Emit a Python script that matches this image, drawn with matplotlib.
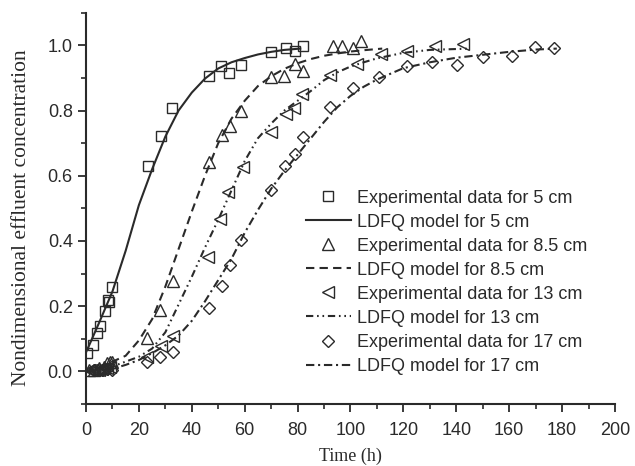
import matplotlib
matplotlib.use("Agg")
import matplotlib.pyplot as plt
from matplotlib.ticker import MultipleLocator

# ------------------------------------------------------------
# Breakthrough data (time in h, C/C0)
# ------------------------------------------------------------

exp5_t = [0.4, 2.6, 4.2, 5.3, 7.2, 8.3, 8.7, 9.8, 23.4, 28.4, 32.5, 46.5,
          51.0, 54.1, 58.6, 69.9, 75.6, 79.0, 82.0]
exp5_c = [0.058, 0.08, 0.117, 0.14, 0.184, 0.22, 0.212, 0.258, 0.629, 0.721,
          0.807, 0.905, 0.936, 0.914, 0.939, 0.979, 0.991, 0.982, 0.997]

exp85_t = [1, 3, 5, 7, 8, 9, 10, 23.1, 28.0, 32.9, 46.5, 51.4, 54.4, 58.6,
           69.9, 74.9, 79.0, 82.0, 93.4, 96.8, 100.9, 103.9]
exp85_c = [0.003, 0.005, 0.01, 0.015, 0.025, 0.03, 0.03, 0.104, 0.187, 0.276,
           0.641, 0.724, 0.752, 0.798, 0.902, 0.905, 0.942, 0.92, 0.997,
           0.997, 0.991, 1.012]

exp13_t = [1, 2, 3, 4, 5, 6, 7, 8, 9, 23.1, 28.4, 32.9, 46.1, 50.7, 53.7,
           59.4, 69.9, 75.6, 78.6, 81.7, 92.2, 102.5, 111.5, 121.4, 131.9,
           142.5]
exp13_c = [0.003, 0.003, 0.005, 0.005, 0.005, 0.008, 0.01, 0.012, 0.015,
           0.045, 0.077, 0.11, 0.35, 0.466, 0.549, 0.626, 0.733, 0.788,
           0.807, 0.85, 0.908, 0.942, 0.972, 0.982, 0.997, 1.003]

exp17_t = [3, 6, 8, 10, 23.1, 28.0, 32.9, 46.5, 51.4, 54.4, 58.6, 69.9, 75.2,
           79.0, 82.0, 92.2, 100.9, 110.8, 121.4, 130.8, 140.3, 150.1, 161.1,
           169.8, 176.9]
exp17_c = [0.003, 0.005, 0.008, 0.005, 0.028, 0.043, 0.061, 0.196, 0.261,
           0.325, 0.402, 0.555, 0.629, 0.666, 0.718, 0.81, 0.868, 0.902,
           0.936, 0.948, 0.939, 0.963, 0.966, 0.994, 0.991]

# LDFQ model curves
mod5_t = [0, 5, 10, 15, 20, 25, 30, 35, 40, 45, 50, 55, 60, 65, 70, 75, 81]
mod5_c = [0.058, 0.15, 0.245, 0.37, 0.51, 0.62, 0.72, 0.80, 0.855, 0.898,
          0.929, 0.948, 0.961, 0.972, 0.98, 0.986, 0.99]

mod85_t = [0, 5, 10, 15, 20, 25, 30, 35, 40, 45, 50, 55, 60, 65, 70, 75, 80,
           85, 90, 95, 100, 105, 112]
mod85_c = [0.0, 0.01, 0.03, 0.048, 0.095, 0.16, 0.26, 0.375, 0.49, 0.60,
           0.70, 0.775, 0.83, 0.875, 0.905, 0.928, 0.945, 0.958, 0.968,
           0.975, 0.981, 0.985, 0.99]

mod13_t = [0, 5, 10, 15, 20, 25, 30, 35, 40, 45, 50, 55, 60, 65, 70, 75, 80,
           85, 90, 95, 100, 105, 110, 120, 130, 145]
mod13_c = [0.0, 0.005, 0.015, 0.03, 0.045, 0.07, 0.12, 0.205, 0.29, 0.38,
           0.465, 0.555, 0.645, 0.715, 0.76, 0.80, 0.83, 0.86, 0.893, 0.917,
           0.935, 0.948, 0.96, 0.977, 0.986, 0.99]

mod17_t = [0, 5, 10, 15, 20, 25, 30, 35, 40, 45, 50, 55, 60, 65, 70, 75, 80,
           85, 90, 95, 100, 105, 110, 120, 130, 140, 150, 160, 170, 178]
mod17_c = [0.0, 0.002, 0.008, 0.02, 0.035, 0.056, 0.08, 0.11, 0.155, 0.215,
           0.28, 0.345, 0.425, 0.495, 0.56, 0.615, 0.665, 0.715, 0.765, 0.81,
           0.845, 0.873, 0.895, 0.93, 0.948, 0.962, 0.971, 0.98, 0.987, 0.99]

# ------------------------------------------------------------
# Plot
# ------------------------------------------------------------

plt.rcParams["font.family"] = "Liberation Sans"
plt.rcParams["font.size"] = 13

ink = "#2a2a2a"

fig = plt.figure(figsize=(6.35, 4.66), dpi=100)
ax = fig.add_axes([0.1354, 0.133, 0.8331, 0.8397])

mk = dict(linestyle="none", markerfacecolor="none", markeredgecolor=ink,
          markeredgewidth=1.0)

ax.plot(exp5_t, exp5_c, marker="s", markersize=7.5,
        label="Experimental data for 5 cm", **mk)
ax.plot(mod5_t, mod5_c, color=ink, lw=1.5, label="LDFQ model for 5 cm")
ax.plot(exp85_t, exp85_c, marker="^", markersize=8,
        label="Experimental data for 8.5 cm", **mk)
ax.plot(mod85_t, mod85_c, color=ink, lw=1.5, dashes=(4, 2.5),
        label="LDFQ model for 8.5 cm")
ax.plot(exp13_t, exp13_c, marker="<", markersize=8,
        label="Experimental data for 13 cm", **mk)
ax.plot(mod13_t, mod13_c, color=ink, lw=1.5, dashes=(3.5, 1.8, 0.8, 1.8, 0.8, 1.8),
        label="LDFQ model for 13 cm")
ax.plot(exp17_t, exp17_c, marker="D", markersize=6.5,
        label="Experimental data for 17 cm", **mk)
ax.plot(mod17_t, mod17_c, color=ink, lw=1.5, dashes=(4, 1.8, 1, 1.8),
        label="LDFQ model for 17 cm")

ax.set_xlim(0, 200)
ax.set_ylim(-0.1, 1.1)
ax.xaxis.set_major_locator(MultipleLocator(20))
ax.xaxis.set_minor_locator(MultipleLocator(10))
ax.set_yticks([0.0, 0.2, 0.4, 0.6, 0.8, 1.0])
ax.yaxis.set_minor_locator(MultipleLocator(0.1))
ax.set_yticklabels(["0.0", "0.2", "0.4", "0.6", "0.8", "1.0"])

for side in ["top", "right"]:
    ax.spines[side].set_visible(False)
for side in ["left", "bottom"]:
    ax.spines[side].set_linewidth(1.5)
    ax.spines[side].set_color(ink)

ax.tick_params(which="major", direction="out", length=6, width=1.3,
               colors=ink, labelcolor=ink)
ax.tick_params(which="minor", direction="out", length=3.5, width=1.2,
               colors=ink)
ax.tick_params(axis="x", which="major", pad=7)
ax.tick_params(axis="y", which="major", pad=3.5)

ax.set_xlabel("Time (h)", family="Liberation Serif", fontsize=13, color=ink,
              labelpad=6)
ax.set_ylabel("Nondimensional effluent concentration",
              family="Liberation Serif", fontsize=15.5, color=ink)
ax.yaxis.set_label_coords(-0.104, 0.476)

leg = ax.legend(loc="upper left", bbox_to_anchor=(0.415, 0.548),
                frameon=False, fontsize=13, handlelength=2.5,
                handletextpad=0.35, labelspacing=0.39, borderpad=0,
                borderaxespad=0)
for text in leg.get_texts():
    text.set_color(ink)

fig.savefig("out.png", dpi=100)
